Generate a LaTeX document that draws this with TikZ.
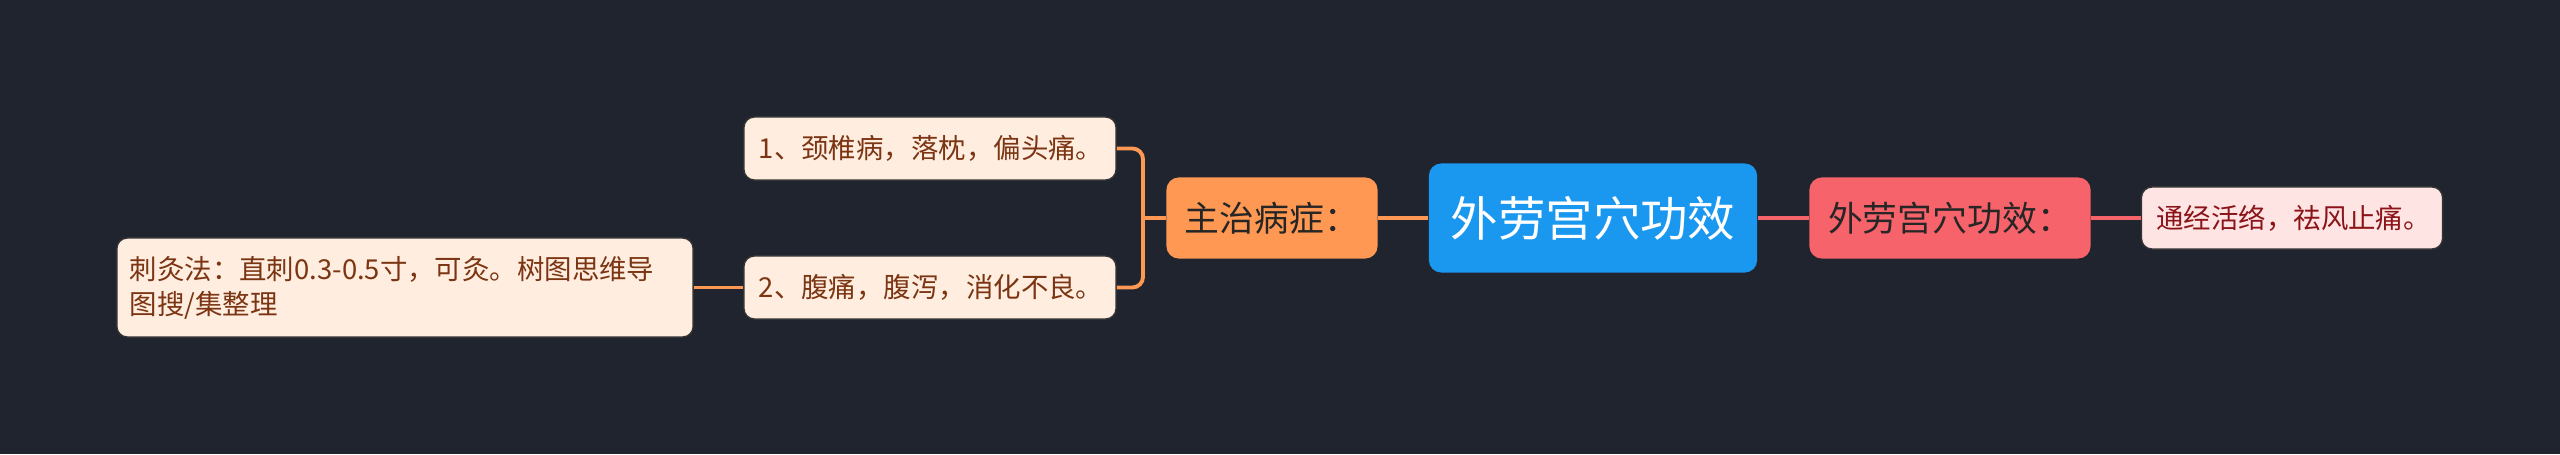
\documentclass[tikz,border=0pt]{standalone}
\usepackage{fontspec}
\setmainfont{Noto Sans CJK SC}
\usepackage{tikz}
\usetikzlibrary{positioning}

\definecolor{bgdark}{HTML}{20242F}
\definecolor{rootblue}{HTML}{1A98F0}
\definecolor{branchorange}{HTML}{FF9852}
\definecolor{branchred}{HTML}{F7636A}
\definecolor{leafpeach}{HTML}{FFEDE0}
\definecolor{leafpink}{HTML}{FFE4E4}
\definecolor{textbrown}{HTML}{7B3512}
\definecolor{textred}{HTML}{8B1418}

\tikzset{
  box/.style={rounded corners=3.5pt, inner sep=0pt, align=center},
  rootbox/.style={box, fill=rootblue, text=white, font=\fontsize{13.5}{16}\selectfont},
  branchbox/.style={box, text=black!85, font=\fontsize{9.9}{12}\selectfont},
  leafbox/.style={box, rounded corners=3pt, draw=black!80, line width=0.4pt,
    inner xsep=0.15cm, align=left, font=\fontsize{7.8}{10}\selectfont},
  link/.style={line width=1.1pt},
}

\begin{document}
\begin{tikzpicture}[x=0.01cm,y=-0.01cm]
      % Background and page size
      \useasboundingbox[fill=bgdark] (0,0) rectangle (2560,454);

      % ---------- Root ----------
      \node[rootbox, minimum width=3.28cm, minimum height=1.09cm] (root) at (1593,218) {外劳宫穴功效};

      %% Left branch
      \node[branchbox, fill=branchorange, minimum width=2.11cm, minimum height=0.81cm] (zhuzhi) at (1272,218) {主治病症：};
      \node[leafbox, fill=leafpeach, text=textbrown, text width=3.42cm, minimum height=0.63cm] (leafa) at (930,148.5) {1、颈椎病，落枕，偏头痛。};
      \node[leafbox, fill=leafpeach, text=textbrown, text width=3.42cm, minimum height=0.63cm] (leafb) at (930,287.5) {2、腹痛，腹泻，消化不良。};
      \node[leafbox, fill=leafpeach, text=textbrown, inner xsep=0.13cm, text width=5.5cm, minimum height=0.99cm] (cijiu) at (405,287.5) {刺灸法：直刺0.3-0.5寸，可灸。树图思维导\\图搜/集整理};

      %% Right branch
      \node[branchbox, fill=branchred, minimum width=2.81cm, minimum height=0.81cm] (gongxiao) at (1950,218) {外劳宫穴功效：};
      \node[leafbox, fill=leafpink, text=textred, text width=2.71cm, minimum height=0.62cm] (leafc) at (2292,218) {通经活络，祛风止痛。};

      % ---------- Connectors ----------
      \coordinate (jn) at (1143,218);
      \draw[link, branchorange] (root.west) -- (zhuzhi.east);
      \draw[link, branchorange] (zhuzhi.west) -- (jn);
      \draw[link, branchorange, rounded corners=3pt] (leafa.east) -| (jn) |- (leafb.east);
      \draw[link, branchorange] (leafb.west) -- (cijiu.east);
      \draw[link, branchred] (root.east) -- (gongxiao.west);
      \draw[link, branchred] (gongxiao.east) -- (leafc.west);
    \end{tikzpicture}
\end{document}
